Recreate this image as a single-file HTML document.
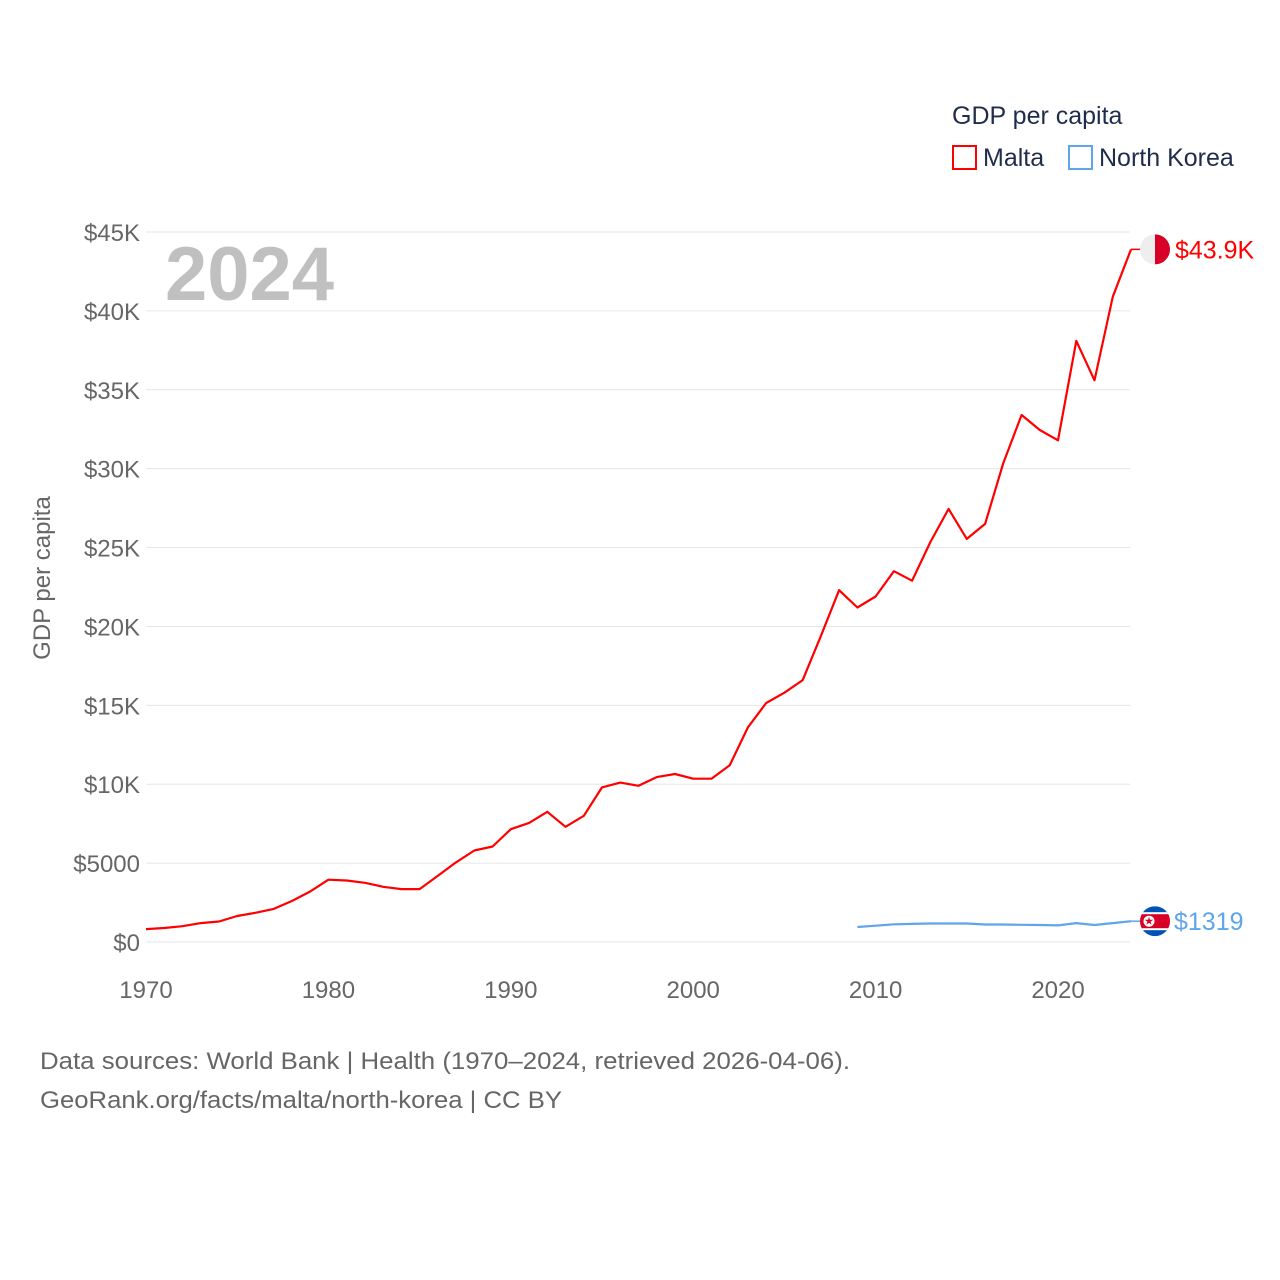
<!DOCTYPE html>
<html><head><meta charset="utf-8"><style>
html,body{margin:0;padding:0;background:#fff;width:1280px;height:1280px;overflow:hidden}
text{font-family:"Liberation Sans",sans-serif}
</style></head><body>
<svg id="chart" width="1280" height="1280" xmlns="http://www.w3.org/2000/svg">
<g id="grid"></g>
<g id="yticks"></g>
<g id="xticks"></g>
<text x="165" y="300" font-size="76" font-weight="bold" fill="#c0c0c0">2024</text>
<text transform="translate(50,578) rotate(-90)" text-anchor="middle" font-size="24" fill="#666">GDP per capita</text>
<g>
<text x="952" y="124" font-size="25" fill="#1f2d4a">GDP per capita</text>
<rect x="953" y="146" width="23" height="23" fill="none" stroke="#ff0000" stroke-width="2"/>
<text x="983" y="166" font-size="25" fill="#1f2d4a">Malta</text>
<rect x="1069" y="146" width="23" height="23" fill="none" stroke="#5ea5ee" stroke-width="2"/>
<text x="1099" y="166" font-size="25" fill="#1f2d4a">North Korea</text>
</g>
<g id="series"></g>
<text x="40" y="1069" font-size="24" fill="#666" textLength="810" lengthAdjust="spacingAndGlyphs">Data sources: World Bank | Health (1970–2024, retrieved 2026-04-06).</text>
<text x="40" y="1108" font-size="24" fill="#666" textLength="522" lengthAdjust="spacingAndGlyphs">GeoRank.org/facts/malta/north-korea | CC BY</text>
</svg>
<script>
const maltaYears = [1970,1971,1972,1973,1974,1975,1976,1977,1978,1979,1980,1981,1982,1983,1984,1985,1986,1987,1988,1989,1990,1991,1992,1993,1994,1995,1996,1997,1998,1999,2000,2001,2002,2003,2004,2005,2006,2007,2008,2009,2010,2011,2012,2013,2014,2015,2016,2017,2018,2019,2020,2021,2022,2023,2024];
const maltaValues = [820,890,1000,1200,1300,1650,1850,2100,2600,3200,3950,3900,3750,3500,3350,3350,4200,5050,5800,6050,7150,7550,8250,7300,8000,9800,10100,9900,10450,10650,10350,10350,11200,13600,15150,15800,16600,19400,22300,21200,21900,23500,22900,25350,27450,25550,26500,30350,33400,32450,31800,38100,35600,40900,43900];
const nkYears = [2009,2010,2011,2012,2013,2014,2015,2016,2017,2018,2019,2020,2021,2022,2023,2024];
const nkValues = [950,1030,1120,1150,1170,1170,1170,1110,1110,1090,1080,1050,1200,1080,1200,1319];
const yTicks = [0,5000,10000,15000,20000,25000,30000,35000,40000,45000];
const yTickLabels = ["$0","$5000","$10K","$15K","$20K","$25K","$30K","$35K","$40K","$45K"];
const xTicks = [1970,1980,1990,2000,2010,2020];

const NS="http://www.w3.org/2000/svg";
const X0=146, X1=1131, Y0=942, Y1=232;
function xs(yr){return X0+(yr-1970)/(2024-1970)*(X1-X0);}
function ys(v){return Y0-v/45000*(Y0-Y1);}
function mk(tag,attrs,parent){const e=document.createElementNS(NS,tag);for(const k in attrs)e.setAttribute(k,attrs[k]);parent.appendChild(e);return e;}

const grid=document.getElementById('grid'), yg=document.getElementById('yticks'), xg=document.getElementById('xticks');
yTicks.forEach((v,i)=>{
  const l=mk('line',{x1:146,x2:1130,y1:ys(v),y2:ys(v),stroke:'#e6e6e6','stroke-width':1},grid);
  
  
  const t=mk('text',{x:140,y:ys(v)+9,'text-anchor':'end','font-size':24,fill:'#666'},yg);
  t.textContent=yTickLabels[i];
  
  
});
xTicks.forEach(yr=>{
  const t=mk('text',{x:xs(yr),y:998,'text-anchor':'middle','font-size':24,fill:'#666'},xg);
  t.textContent=yr;
  
  
});

const sg=document.getElementById('series');
function line(years,vals,color,name){
  const d=years.map((y,i)=>(i?'L':'M')+xs(y).toFixed(1)+','+ys(vals[i]).toFixed(1)).join(' ');
  const p=mk('path',{d:d,fill:'none',stroke:color,'stroke-width':2.2,'stroke-linejoin':'round'},sg);
  
  
  const last=vals[vals.length-1];
  const c=mk('line',{x1:xs(years[years.length-1]),x2:1142,y1:ys(last),y2:ys(last),stroke:color,'stroke-width':1.5},sg);
  
  
  return ys(last);
}
const my=line(maltaYears,maltaValues,'#ff0000','malta-line');
const ny=line(nkYears,nkValues,'#5ea5ee','north-korea-line');

const mf=mk('g',{},sg);


mk('defs',{},mf).innerHTML='<clipPath id="cm"><circle cx="1155" cy="'+my+'" r="15"/></clipPath><clipPath id="cn"><circle cx="1155" cy="'+ny+'" r="15"/></clipPath>';
mk('rect',{x:1140,y:my-15,width:15,height:30,fill:'#eeeeee','clip-path':'url(#cm)'},mf);
mk('rect',{x:1155,y:my-15,width:15,height:30,fill:'#d80027','clip-path':'url(#cm)'},mf);
const ml=mk('text',{x:1175,y:my+9,'font-size':25,fill:'#ff0000'},sg);
ml.textContent='$43.9K';



const nf=mk('g',{'clip-path':'url(#cn)'},sg);


mk('rect',{x:1140,y:ny-15,width:30,height:30,fill:'#0052b4'},nf);
mk('rect',{x:1140,y:ny-9,width:30,height:18,fill:'#ffffff'},nf);
mk('rect',{x:1140,y:ny-7,width:30,height:14,fill:'#d80027'},nf);
mk('circle',{cx:1149,cy:ny,r:5.5,fill:'#fff'},nf);
mk('polygon',{points:[0,1,2,3,4].map(k=>{const a=-Math.PI/2+k*4*Math.PI/5;return (1149+4.5*Math.cos(a)).toFixed(1)+','+(ny+4.5*Math.sin(a)).toFixed(1);}).join(' '),fill:'#d80027'},nf);
const nl=mk('text',{x:1174,y:ny+9,'font-size':25,fill:'#5ea5ee'},sg);
nl.textContent='$1319';


</script>
</body></html>
